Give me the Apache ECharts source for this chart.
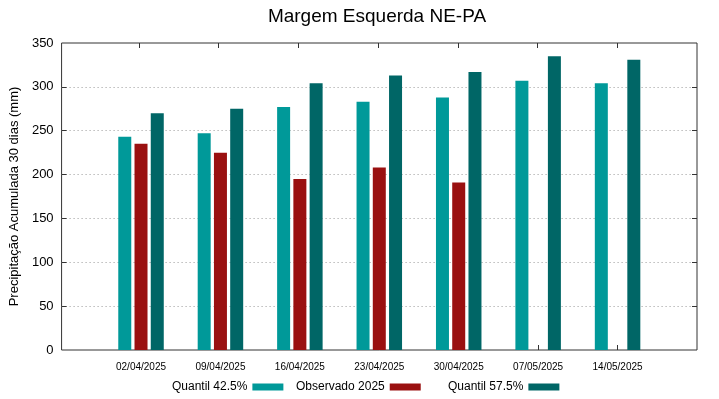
<!DOCTYPE html>
<html>
<head>
<meta charset="utf-8">
<script src="https://cdn.jsdelivr.net/npm/echarts@6/dist/echarts.min.js"></script>
<style>
  html, body { margin: 0; padding: 0; background: #fff; }
  #chart { width: 719px; height: 399px; }
</style>
</head>
<body>
<div id="chart"></div>
<script>
// dates sit at x = 1..7 on a 0..8 axis, like the original plot
const dates = ['02/04/2025', '09/04/2025', '16/04/2025', '23/04/2025', '30/04/2025', '07/05/2025', '14/05/2025'];
const q425 = [243, 247, 277, 283, 288, 307, 304];
const obs2025 = [235, 225, 195, 208, 191, null, null];
const q575 = [270, 275, 304, 313, 317, 335, 331];
const xPos = [1, 2, 3, 4, 5, 6, 7];
const yTicks = [50, 100, 150, 200, 250, 300];

const font = 'Liberation Sans, Arial, sans-serif';

function pairs (vals) {
  return vals.map(function (v, i) { return [xPos[i], v]; });
}

function legendAt (left, name) {
  return {
    left: left,
    top: 381,
    padding: 0,
    align: 'right',
    itemWidth: 31,
    itemHeight: 7,
    icon: 'rect',
    data: [name],
    textStyle: { fontFamily: font, fontSize: 12, color: '#000' }
  };
}

// small ticks pointing into the plot, gnuplot style
function ticks (vals) {
  return { show: true, inside: true, length: 5, customValues: vals, lineStyle: { color: '#333' } };
}

const box = { left: 59, right: 22, top: 43, bottom: 49 };

let chart = echarts.init(document.getElementById('chart'));
let option = {
  animation: false,
  title: {
    text: 'Margem Esquerda NE-PA',
    left: 372,
    textAlign: 'center',
    top: 2,
    textStyle: { fontFamily: font, fontSize: 19, fontWeight: 'normal', color: '#000' }
  },
  legend: [
    legendAt(172, 'Quantil 42.5%'),
    legendAt(296, 'Observado 2025'),
    legendAt(448, 'Quantil 57.5%')
  ],
  grid: [
    Object.assign({ show: true, borderColor: '#333', borderWidth: 1 }, box),
    // same rectangle, inverted scales: only carries the top and right tick marks
    Object.assign({}, box)
  ],
  xAxis: [{
    type: 'value',
    gridIndex: 0,
    min: 0,
    max: 8,
    interval: 1,
    axisLine: { show: false },
    axisTick: ticks(xPos),
    splitLine: { show: false },
    axisLabel: {
      margin: 12,
      fontFamily: font,
      fontSize: 10,
      color: '#000',
      customValues: xPos,
      formatter: function (v) {
        return dates[v - 1] || '';
      }
    }
  }, {
    type: 'value',
    gridIndex: 1,
    position: 'top',
    inverse: true,
    min: 0,
    max: 8,
    interval: 1,
    axisLine: { show: false },
    axisTick: ticks(xPos),
    splitLine: { show: false },
    axisLabel: { show: false }
  }],
  yAxis: [{
    type: 'value',
    gridIndex: 0,
    min: 0,
    max: 350,
    interval: 50,
    name: 'Precipitação Acumulada 30 dias (mm)',
    nameLocation: 'middle',
    nameGap: 35,
    nameTextStyle: { fontFamily: font, fontSize: 13, color: '#000' },
    axisLine: { show: false },
    axisTick: ticks(yTicks),
    splitLine: { show: true, lineStyle: { color: '#999', type: [1, 3], width: 1 } },
    axisLabel: {
      margin: 8,
      fontFamily: font,
      fontSize: 13,
      color: '#000'
    }
  }, {
    type: 'value',
    gridIndex: 1,
    position: 'right',
    inverse: true,
    min: 0,
    max: 350,
    interval: 50,
    axisLine: { show: false },
    axisTick: ticks(yTicks),
    splitLine: { show: false },
    axisLabel: { show: false }
  }],
  series: [{
    name: 'Quantil 42.5%',
    type: 'bar',
    barWidth: 13,
    barGap: '25%',
    itemStyle: { color: '#009999' },
    data: pairs(q425)
  }, {
    name: 'Observado 2025',
    type: 'bar',
    barWidth: 13,
    barGap: '25%',
    itemStyle: { color: '#9a1010' },
    data: pairs(obs2025)
  }, {
    name: 'Quantil 57.5%',
    type: 'bar',
    barWidth: 13,
    barGap: '25%',
    itemStyle: { color: '#006666' },
    data: pairs(q575)
  }]
};
chart.setOption(option);
</script>
</body>
</html>
